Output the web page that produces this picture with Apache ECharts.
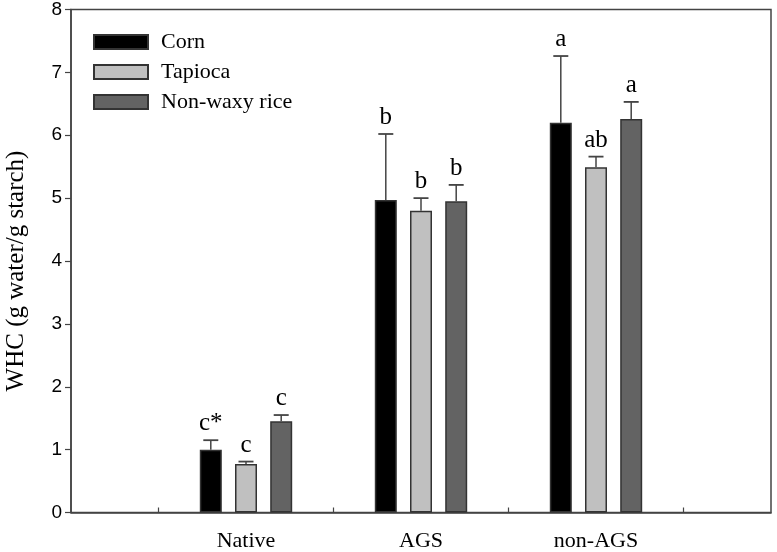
<!DOCTYPE html>
<html><head><meta charset="utf-8">
<script src="https://cdn.jsdelivr.net/npm/echarts@6/dist/echarts.min.js"></script>
<style>html,body{margin:0;padding:0;background:#fff}#c{width:777px;height:552px}</style>
</head><body><div id="c"></div>
<script>
const categories = ['Native', 'AGS', 'non-AGS'];
const seriesNames = ['Corn', 'Tapioca', 'Non-waxy rice'];
const cornMean = [1.00, 4.97, 6.20];
const cornErr = [0.15, 1.05, 1.06];
const cornLetters = ['c*', 'b', 'a'];
const tapiocaMean = [0.77, 4.80, 5.49];
const tapiocaErr = [0.04, 0.20, 0.17];
const tapiocaLetters = ['c', 'b', 'ab'];
const riceMean = [1.45, 4.95, 6.26];
const riceErr = [0.10, 0.26, 0.27];
const riceLetters = ['c', 'b', 'a'];
const yTicks = [0, 1, 2, 3, 4, 5, 6, 7, 8];

const colors = ['#000000', '#c0c0c0', '#636363'];
const means = [cornMean, tapiocaMean, riceMean];
const errs = [cornErr, tapiocaErr, riceErr];
const letters = [cornLetters, tapiocaLetters, riceLetters];
const offsets = [-35.2, 0, 35.2];
const serif = 'Liberation Serif';

const axisCats = [''].concat(categories, ['']);

const series = [];
seriesNames.forEach((name, s) => {
  series.push({
    name: name, type: 'bar', xAxisIndex: 0, yAxisIndex: 0,
    barWidth: 22, barGap: '60%',
    itemStyle: { color: colors[s], borderColor: '#333', borderWidth: 1.5 },
    data: means[s].map((v, i) => [i + 1, v]),
    z: 2
  });
});
seriesNames.forEach((name, s) => {
  series.push({
    name: name + '_err', type: 'custom', xAxisIndex: 0, yAxisIndex: 0, z: 5,
    data: means[s].map((v, i) => [i + 1, v, errs[s][i]]),
    renderItem: function (params, api) {
      const base = api.coord([api.value(0), api.value(1)]);
      const top = api.coord([api.value(0), api.value(1) + api.value(2)]);
      const x = base[0] + offsets[s];
      return {
        type: 'group',
        children: [
          { type: 'line', shape: { x1: x, y1: base[1], x2: x, y2: top[1] }, style: { stroke: '#444', lineWidth: 1.5 } },
          { type: 'line', shape: { x1: x - 7.5, y1: top[1], x2: x + 7.5, y2: top[1] }, style: { stroke: '#444', lineWidth: 1.8 } },
          { type: 'text', x: x, y: top[1] - 4, style: { text: letters[s][params.dataIndex], fontFamily: serif, fontSize: 25, fill: '#000', align: 'center', verticalAlign: 'bottom' } }
        ]
      };
    }
  });
});

const chart = echarts.init(document.getElementById('c'), null, { renderer: 'canvas' });
chart.setOption({
  animation: false,
  backgroundColor: '#fff',
  grid: { left: 71, right: 6, top: 9.5, bottom: 39.5, show: true, borderColor: '#444', borderWidth: 1.5, containLabel: false, outerBoundsMode: 'none' },
  legend: {
    data: seriesNames, orient: 'vertical', left: 88, top: 26, padding: 5,
    itemWidth: 54, itemHeight: 14, itemGap: 8, icon: 'rect',
    textStyle: { fontFamily: serif, fontSize: 22, color: '#000', padding: [0, 0, 0, 8] }
  },
  xAxis: [
    {
      type: 'category', data: axisCats, boundaryGap: false,
      axisLine: { show: true, lineStyle: { color: '#444', width: 1.5 } },
      axisTick: { show: false },
      axisLabel: { fontFamily: serif, fontSize: 22, color: '#000', margin: 18, interval: 0 },
      splitLine: { show: false }
    },
    {
      type: 'category', data: ['t1', 't2', 't3', 't4'], boundaryGap: true, position: 'bottom',
      axisLine: { show: false },
      axisTick: { show: true, alignWithLabel: true, inside: true, length: 5, lineStyle: { color: '#444', width: 1.2 } },
      axisLabel: { show: false }, splitLine: { show: false }
    }
  ],
  yAxis: {
    type: 'value', min: 0, max: 8, interval: 1,
    name: 'WHC (g water/g starch)', nameLocation: 'middle', nameGap: 42,
    nameTextStyle: { fontFamily: serif, fontSize: 25, color: '#000', padding: [0, 20, 0, 0] },
    axisLine: { show: true, lineStyle: { color: '#444', width: 1.5 } },
    axisTick: { show: true, inside: false, length: 6, lineStyle: { color: '#444', width: 1.2 } },
    axisLabel: { fontFamily: 'Liberation Sans', fontSize: 19, color: '#000', margin: 9,
      formatter: v => (yTicks.indexOf(v) >= 0 ? String(v) : '') },
    splitLine: { show: false }
  },
  series: series
});
</script></body></html>
